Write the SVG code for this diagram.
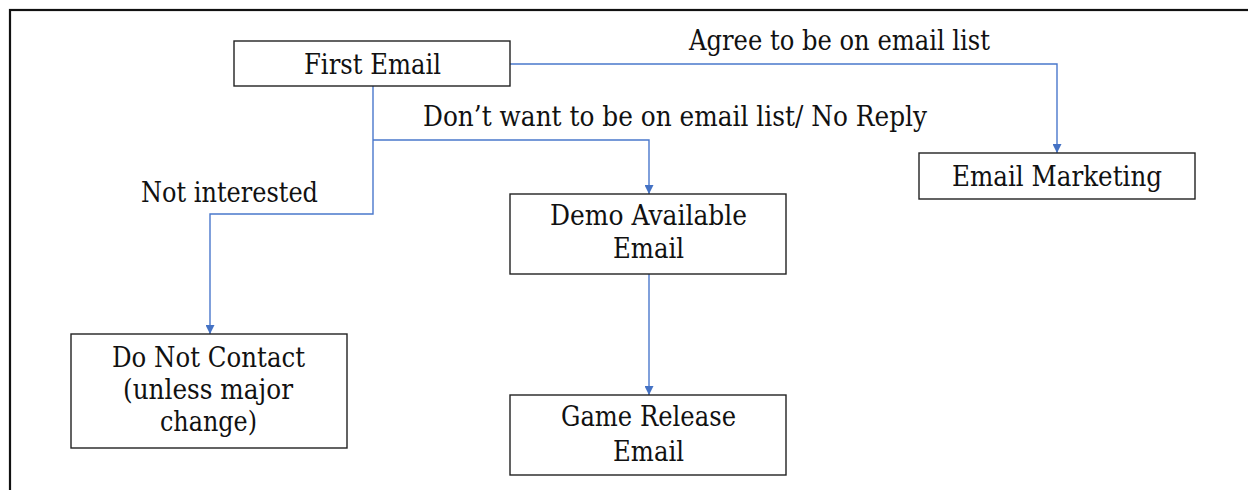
<svg xmlns="http://www.w3.org/2000/svg" width="1248" height="490" viewBox="0 0 1248 490">
  <style>
    .frame { fill: none; stroke: #111; stroke-width: 2.2; }
    .box { fill: #fff; stroke: #222; stroke-width: 1.4; }
    .txt { font-family: "DejaVu Serif", "Liberation Serif", serif; font-size: 27px; fill: #111; text-anchor: middle; }
    .conn { fill: none; stroke: #4A78CC; stroke-width: 1.4; }
  </style>
  <defs>
    <marker id="arrow" viewBox="0 0 10 10" refX="10" refY="5" markerWidth="9" markerHeight="9" markerUnits="userSpaceOnUse" orient="auto">
      <path d="M0,0 L10,5 L0,10 Z" fill="#4472C4"/>
    </marker>
  </defs>

  <rect width="1248" height="490" fill="#fff"/>
  <!-- outer frame, running off the right and bottom edges -->
  <rect class="frame" x="10" y="10" width="1260" height="500"/>

  <g id="connectors">
    <path class="conn" d="M510,64 H1057 V153" marker-end="url(#arrow)"/>
    <path class="conn" d="M373,86 V214 H210 V334" marker-end="url(#arrow)"/>
    <path class="conn" d="M373,140 H649 V194" marker-end="url(#arrow)"/>
    <path class="conn" d="M649,274 V395" marker-end="url(#arrow)"/>
  </g>

  <g id="labels">
    <text class="txt" x="839.5" y="50" textLength="301" lengthAdjust="spacingAndGlyphs">Agree to be on email list</text>
    <text class="txt" x="675" y="126" textLength="504" lengthAdjust="spacingAndGlyphs">Don’t want to be on email list/ No Reply</text>
    <text class="txt" x="229.5" y="202" textLength="177" lengthAdjust="spacingAndGlyphs">Not interested</text>
  </g>

  <g id="first-email">
    <rect class="box" x="234" y="41" width="276" height="45"/>
    <text class="txt" x="372.5" y="74" textLength="137" lengthAdjust="spacingAndGlyphs">First Email</text>
  </g>

  <g id="email-marketing">
    <rect class="box" x="919" y="153" width="276" height="46"/>
    <text class="txt" x="1057" y="186" textLength="210" lengthAdjust="spacingAndGlyphs">Email Marketing</text>
  </g>

  <g id="demo-available-email">
    <rect class="box" x="510" y="194" width="276" height="80"/>
    <text class="txt" x="648.5" y="225" textLength="197" lengthAdjust="spacingAndGlyphs">Demo Available</text>
    <text class="txt" x="648.5" y="258" textLength="71" lengthAdjust="spacingAndGlyphs">Email</text>
  </g>

  <g id="game-release-email">
    <rect class="box" x="510" y="395" width="276" height="80"/>
    <text class="txt" x="648.5" y="426" textLength="175" lengthAdjust="spacingAndGlyphs">Game Release</text>
    <text class="txt" x="648.5" y="461" textLength="71" lengthAdjust="spacingAndGlyphs">Email</text>
  </g>

  <g id="do-not-contact">
    <rect class="box" x="71" y="334" width="276" height="114"/>
    <text class="txt" x="208.5" y="367" textLength="193" lengthAdjust="spacingAndGlyphs">Do Not Contact</text>
    <text class="txt" x="208" y="399" textLength="170" lengthAdjust="spacingAndGlyphs">(unless major</text>
    <text class="txt" x="208.5" y="431" textLength="97" lengthAdjust="spacingAndGlyphs">change)</text>
  </g>
</svg>
